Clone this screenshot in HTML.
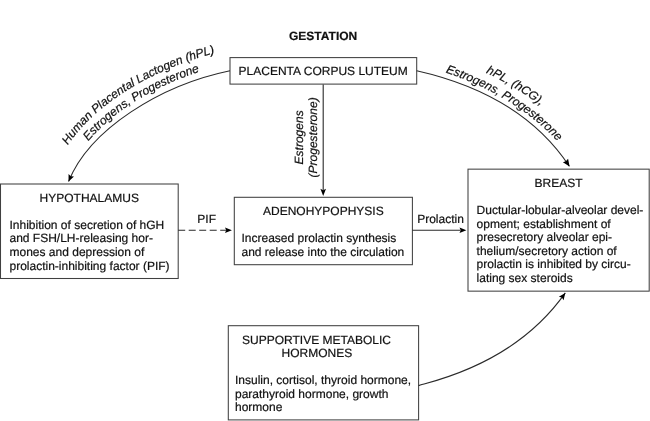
<!DOCTYPE html>
<html><head><meta charset="utf-8">
<style>
html,body{margin:0;padding:0;background:#fff;}
svg{display:block;filter:grayscale(1);}
text{font-family:"Liberation Sans",sans-serif;font-size:12px;fill:#111;stroke:#111;stroke-width:0.2;text-rendering:geometricPrecision;}
.b{font-weight:bold;}
.i{font-style:italic;}
.bx{fill:#fff;stroke:#404040;stroke-width:1.05;}
.ln{fill:none;stroke:#2a2a2a;stroke-width:1.1;}
.ah{fill:#000;}
</style></head><body>
<svg width="650" height="421" viewBox="0 0 650 421">
<rect width="650" height="421" fill="#fff"/>
<defs>
<path id="pL1" d="M67.81,145.37 L69.48,142.95 L71.19,140.54 L72.97,138.16 L74.80,135.81 L76.67,133.48 L78.60,131.17 L80.58,128.90 L82.61,126.65 L84.68,124.42 L86.80,122.22 L88.97,120.05 L91.17,117.91 L93.42,115.79 L95.72,113.70 L98.05,111.64 L100.42,109.61 L102.83,107.61 L105.28,105.63 L107.77,103.69 L110.29,101.77 L112.84,99.88 L115.43,98.03 L118.06,96.20 L120.71,94.41 L123.39,92.64 L126.11,90.91 L128.85,89.21 L131.62,87.53 L134.41,85.89 L137.23,84.27 L140.07,82.68 L142.93,81.12 L145.82,79.59 L148.72,78.08 L151.65,76.61 L154.59,75.17 L157.56,73.75 L160.54,72.37 L163.54,71.01 L166.55,69.69 L169.58,68.40 L172.62,67.14 L175.68,65.91 L178.75,64.71 L181.84,63.55 L184.93,62.41 L188.04,61.31 L191.15,60.25 L194.28,59.21 L197.41,58.22 L200.56,57.25 L203.71,56.32 L206.86,55.43 L210.02,54.57 L213.19,53.75 L216.36,52.96 L219.54,52.21 L222.71,51.50 L225.89,50.82 L255.24,44.58"/>
<path id="pL2" d="M88.29,141.31 L89.90,139.38 L91.56,137.46 L93.26,135.56 L95.00,133.68 L96.77,131.81 L98.59,129.97 L100.44,128.14 L102.33,126.33 L104.25,124.53 L106.21,122.76 L108.20,121.01 L110.23,119.28 L112.28,117.56 L114.37,115.87 L116.49,114.20 L118.64,112.55 L120.82,110.92 L123.03,109.32 L125.27,107.74 L127.53,106.17 L129.82,104.64 L132.13,103.12 L134.47,101.63 L136.84,100.17 L139.22,98.72 L141.63,97.31 L144.07,95.91 L146.52,94.54 L148.99,93.19 L151.48,91.87 L153.98,90.56 L156.50,89.28 L159.04,88.02 L161.59,86.78 L164.16,85.57 L166.74,84.37 L169.34,83.21 L171.95,82.06 L174.57,80.95 L177.20,79.85 L179.84,78.78 L182.50,77.74 L185.16,76.72 L187.83,75.72 L190.52,74.75 L193.21,73.81 L195.90,72.89 L198.61,72.00 L201.32,71.14 L204.03,70.30 L206.75,69.50 L209.48,68.71 L212.21,67.96 L214.94,67.24 L217.67,66.54 L220.41,65.87 L223.15,65.23 L225.89,64.62 L228.62,64.04 L257.97,57.82"/>
<path id="pR1" d="M485.88,72.72 L487.91,73.67 L489.93,74.63 L491.94,75.61 L493.94,76.60 L495.94,77.60 L497.92,78.62 L499.90,79.66 L501.86,80.70 L503.82,81.76 L505.76,82.84 L507.70,83.93 L509.63,85.03 L511.55,86.15 L513.45,87.29 L515.35,88.44 L517.24,89.60 L519.12,90.78 L520.98,91.97 L522.84,93.18 L524.68,94.40 L526.52,95.64 L528.34,96.90 L530.15,98.16 L531.95,99.45 L533.74,100.75 L535.52,102.06 L537.29,103.39 L539.04,104.74 L540.78,106.10 L542.51,107.48 L544.23,108.87 L545.93,110.28 L547.62,111.70 L549.30,113.14 L550.97,114.59 L552.62,116.06 L554.26,117.55 L555.89,119.05 L557.50,120.57 L559.10,122.11 L560.68,123.66 L562.25,125.23 L563.81,126.81 L565.35,128.41 L566.88,130.02 L568.39,131.65 L569.89,133.30 L571.37,134.97 L572.84,136.65 L574.29,138.34 L575.73,140.05 L577.15,141.78 L578.56,143.53 L579.94,145.29 L581.32,147.07 L582.67,148.86 L584.01,150.67 L585.34,152.50 L586.64,154.34 L603.99,178.82"/>
<path id="pR2" d="M445.55,72.49 L448.22,73.39 L450.87,74.30 L453.51,75.24 L456.13,76.19 L458.75,77.17 L461.35,78.16 L463.94,79.18 L466.52,80.21 L469.08,81.27 L471.63,82.35 L474.16,83.45 L476.68,84.57 L479.19,85.71 L481.68,86.87 L484.16,88.06 L486.62,89.26 L489.07,90.49 L491.50,91.74 L493.92,93.01 L496.31,94.30 L498.70,95.62 L501.06,96.95 L503.41,98.31 L505.75,99.69 L508.06,101.09 L510.36,102.52 L512.64,103.97 L514.90,105.44 L517.15,106.93 L519.37,108.44 L521.58,109.98 L523.77,111.54 L525.93,113.13 L528.08,114.74 L530.21,116.37 L532.32,118.02 L534.41,119.70 L536.48,121.40 L538.53,123.13 L540.55,124.88 L542.56,126.65 L544.54,128.45 L546.50,130.27 L548.44,132.11 L550.36,133.98 L552.25,135.87 L554.12,137.79 L555.97,139.73 L557.79,141.70 L559.60,143.69 L561.37,145.71 L563.12,147.75 L564.85,149.81 L566.56,151.90 L568.23,154.02 L569.89,156.16 L571.51,158.32 L573.11,160.51 L574.69,162.73 L592.08,187.17"/>
</defs>

<!-- boxes -->
<rect class="bx" x="230" y="57.6" width="186.7" height="26.5"/>
<rect class="bx" x="0.5" y="184" width="177.7" height="94.5"/>
<rect class="bx" x="234.3" y="197.3" width="178.1" height="67.4"/>
<rect class="bx" x="468" y="169.15" width="181.2" height="122.0"/>
<rect class="bx" x="228.3" y="325.7" width="190.3" height="94.2"/>

<!-- arrows -->
<path class="ln" d="M230.00,70.70 C160.48,85.06 89.56,129.17 68.55,181.55"/>
<polygon class="ah" points="68.55,181.55 68.57,174.05 70.80,176.31 73.99,176.38"/>
<path class="ln" d="M416.70,70.70 C480.35,85.10 535.50,115.40 569.30,166.20"/>
<polygon class="ah" points="569.60,166.60 562.88,162.35 565.87,161.15 568.08,158.80"/>
<path class="ln" d="M418.60,385.60 C422.62,383.20 512.20,368.30 565.30,292.90"/>
<polygon class="ah" points="565.30,292.90 563.55,300.27 561.90,297.60 558.85,296.87"/>
<path class="ln" d="M323.2,84.5 V190"/>
<polygon class="ah" points="323.20,196.00 320.40,188.80 323.20,190.20 326.00,188.80"/>
<path class="ln" d="M178.2,230.25 H226" stroke-dasharray="7,3.5"/>
<polygon class="ah" points="231.90,230.25 225.00,233.00 226.20,230.25 225.00,227.50"/>
<path class="ln" d="M412.4,230.25 H460.5"/>
<polygon class="ah" points="466.40,230.25 459.50,233.00 460.70,230.25 459.50,227.50"/>

<!-- text -->
<g>
<text class="b" x="289" y="39.5">GESTATION</text>
<text x="238.6" y="75">PLACENTA CORPUS LUTEUM</text>

<text x="39.6" y="201.8">HYPOTHALAMUS</text>
<text x="9.5" y="228.5">Inhibition of secretion of hGH</text>
<text x="9.5" y="242.2">and FSH/LH-releasing hor-</text>
<text x="9.5" y="255.9">mones and depression of</text>
<text x="9.5" y="269.6">prolactin-inhibiting factor (PIF)</text>

<text x="263" y="214.5">ADENOHYPOPHYSIS</text>
<text x="241.5" y="242.4">Increased prolactin synthesis</text>
<text x="241.5" y="255.7">and release into the circulation</text>

<text x="534.5" y="186.5">BREAST</text>
<text x="476.6" y="214.40">Ductular-lobular-alveolar devel-</text>
<text x="476.6" y="227.92">opment; establishment of</text>
<text x="476.6" y="241.44">presecretory alveolar epi-</text>
<text x="476.6" y="254.96">thelium/secretory action of</text>
<text x="476.6" y="268.48">prolactin is inhibited by circu-</text>
<text x="476.6" y="282.00">lating sex steroids</text>

<text x="242" y="343.5">SUPPORTIVE METABOLIC</text>
<text x="281.5" y="356.5">HORMONES</text>
<text x="235" y="384">Insulin, cortisol, thyroid hormone,</text>
<text x="235" y="397.5">parathyroid hormone, growth</text>
<text x="235" y="411">hormone</text>

<text x="197.3" y="223.4">PIF</text>
<text x="417.2" y="223.2">Prolactin</text>

<text class="i" transform="translate(303.2,164.4) rotate(-90)">Estrogens</text>
<text class="i" transform="translate(317.3,177.4) rotate(-90)">(Progesterone)</text>

<text class="i"><textPath href="#pL1">Human Placental Lactogen (hPL)</textPath></text>
<text class="i"><textPath href="#pL2">Estrogens, Progesterone</textPath></text>
<text class="i"><textPath href="#pR1">hPL, (hCG),</textPath></text>
<text class="i"><textPath href="#pR2">Estrogens, Progesterone</textPath></text>
</g>
</svg>
</body></html>
